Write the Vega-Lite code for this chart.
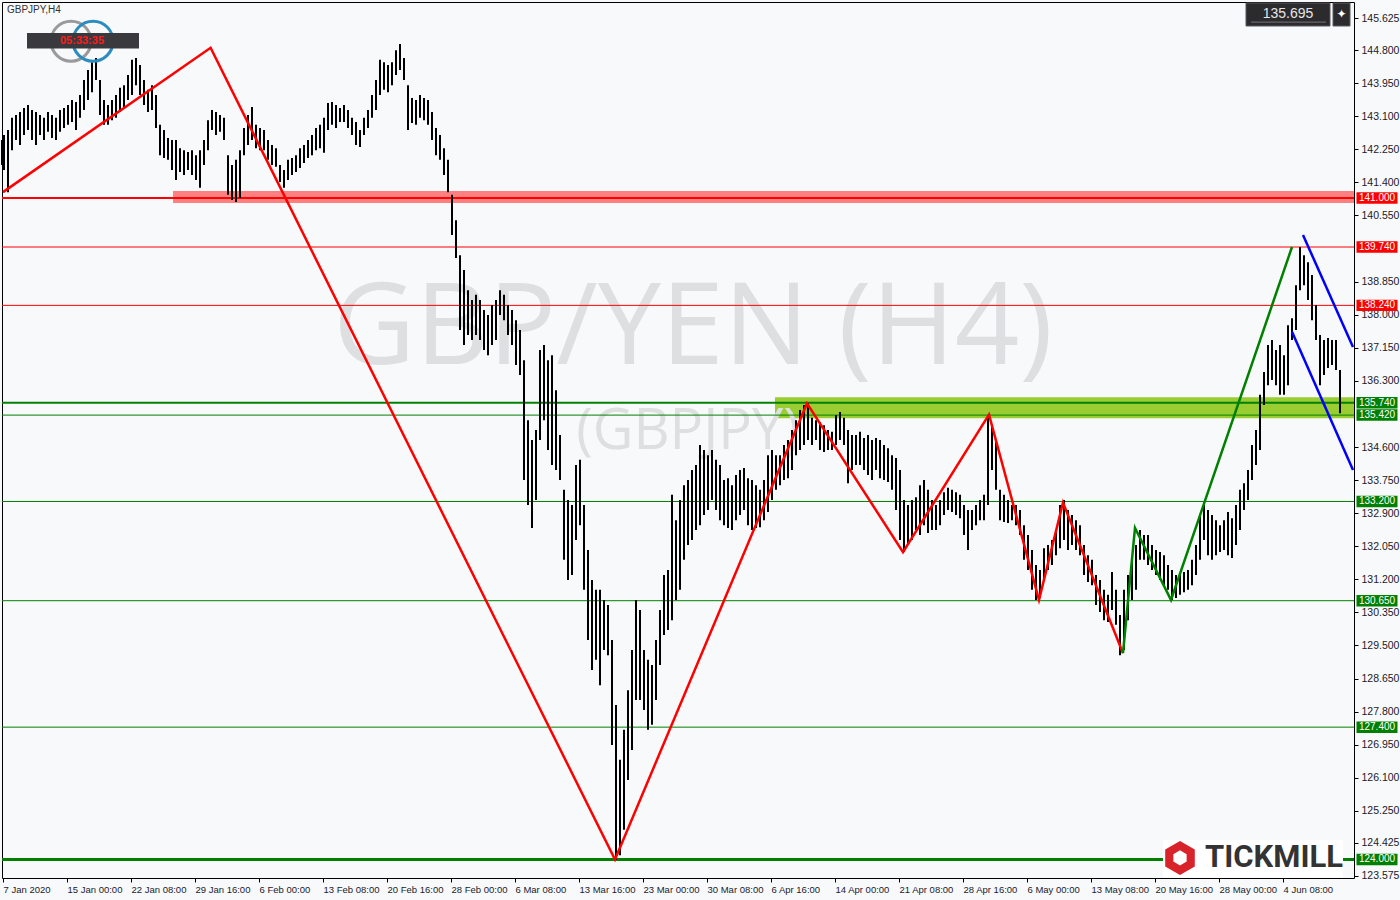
{
"$schema":"https://vega.github.io/schema/vega-lite/v6.json",
"width":1352,"height":876,
"autosize":{"type":"none"},
"padding":{"left":2,"top":2,"right":46,"bottom":22},
"background":"#F8F9FB",
"config":{"view":{"stroke":"#000000","strokeWidth":1,"fill":"#F8F9FB"},"font":"Liberation Sans","axis":{"labelOverlap":false,"labelBound":false,"labelFlush":false,"title":null}},
"datasets":{
"bars":[
{"t":1,"p":142.49,"p2":141.85},{"t":2,"p":142.62,"p2":141.72},{"t":4,"p":142.75,"p2":141.15},{"t":6,"p":143.06,"p2":142.23},{"t":8,"p":143.13,"p2":142.49},{"t":10,"p":143.21,"p2":142.36},{"t":12,"p":143.31,"p2":142.62},{"t":14,"p":143.39,"p2":142.75},{"t":16,"p":143.26,"p2":142.49},{"t":18,"p":143.21,"p2":142.36},
{"t":20,"p":143.13,"p2":142.62},{"t":22,"p":143.06,"p2":142.49},{"t":24,"p":143.21,"p2":142.70},{"t":26,"p":143.13,"p2":142.54},{"t":28,"p":143.06,"p2":142.49},{"t":30,"p":143.26,"p2":142.70},{"t":32,"p":143.31,"p2":142.80},{"t":34,"p":143.39,"p2":142.88},{"t":36,"p":143.52,"p2":142.95},{"t":38,"p":143.47,"p2":142.75},
{"t":40,"p":143.65,"p2":143.06},{"t":42,"p":144.03,"p2":143.26},{"t":44,"p":144.29,"p2":143.52},{"t":46,"p":144.49,"p2":143.72},{"t":48,"p":144.60,"p2":144.03},{"t":50,"p":144.03,"p2":143.13},{"t":52,"p":143.52,"p2":142.88},{"t":54,"p":143.39,"p2":142.88},{"t":56,"p":143.52,"p2":143.00},{"t":58,"p":143.65,"p2":143.06},
{"t":60,"p":143.83,"p2":143.21},{"t":62,"p":143.90,"p2":143.31},{"t":64,"p":144.16,"p2":143.52},{"t":66,"p":144.55,"p2":143.65},{"t":68,"p":144.60,"p2":143.90},{"t":70,"p":144.42,"p2":143.65},{"t":72,"p":144.03,"p2":143.39},{"t":74,"p":143.78,"p2":143.21},{"t":76,"p":143.90,"p2":143.26},{"t":78,"p":143.65,"p2":142.80},
{"t":80,"p":142.88,"p2":142.10},{"t":82,"p":142.75,"p2":142.03},{"t":84,"p":142.54,"p2":141.98},{"t":86,"p":142.49,"p2":141.72},{"t":88,"p":142.49,"p2":141.46},{"t":90,"p":142.28,"p2":141.67},{"t":92,"p":142.23,"p2":141.59},{"t":94,"p":142.18,"p2":141.72},{"t":96,"p":142.23,"p2":141.59},{"t":98,"p":142.10,"p2":141.46},
{"t":100,"p":142.23,"p2":141.26},{"t":102,"p":142.49,"p2":141.85},{"t":104,"p":143.00,"p2":142.23},{"t":106,"p":143.26,"p2":142.75},{"t":108,"p":143.21,"p2":142.62},{"t":110,"p":143.13,"p2":142.70},{"t":112,"p":143.06,"p2":142.49},{"t":114,"p":142.10,"p2":141.08},{"t":116,"p":141.85,"p2":140.95},{"t":118,"p":141.98,"p2":140.90},
{"t":120,"p":142.23,"p2":141.00},{"t":122,"p":142.80,"p2":142.10},{"t":124,"p":143.13,"p2":142.36},{"t":126,"p":143.34,"p2":142.49},{"t":128,"p":142.88,"p2":142.28},{"t":130,"p":142.80,"p2":142.23},{"t":132,"p":142.75,"p2":142.23},{"t":134,"p":142.49,"p2":141.98},{"t":136,"p":142.36,"p2":141.85},{"t":138,"p":142.28,"p2":141.80},
{"t":140,"p":141.85,"p2":141.41},{"t":142,"p":141.72,"p2":141.26},{"t":144,"p":141.98,"p2":141.46},{"t":146,"p":142.03,"p2":141.59},{"t":148,"p":142.10,"p2":141.67},{"t":150,"p":142.28,"p2":141.77},{"t":152,"p":142.36,"p2":141.90},{"t":154,"p":142.49,"p2":142.03},{"t":156,"p":142.62,"p2":142.10},{"t":158,"p":142.80,"p2":142.23},
{"t":160,"p":142.88,"p2":142.28},{"t":162,"p":143.06,"p2":142.16},{"t":164,"p":143.44,"p2":142.75},{"t":166,"p":143.47,"p2":142.88},{"t":168,"p":143.39,"p2":142.80},{"t":170,"p":143.31,"p2":142.95},{"t":172,"p":143.39,"p2":142.95},{"t":174,"p":143.26,"p2":142.80},{"t":176,"p":143.06,"p2":142.62},{"t":178,"p":142.95,"p2":142.36},
{"t":180,"p":142.75,"p2":142.31},{"t":182,"p":143.06,"p2":142.62},{"t":184,"p":143.26,"p2":142.80},{"t":186,"p":143.65,"p2":143.06},{"t":188,"p":144.03,"p2":143.26},{"t":190,"p":144.55,"p2":143.65},{"t":192,"p":144.49,"p2":143.78},{"t":194,"p":144.42,"p2":143.72},{"t":196,"p":144.49,"p2":143.90},{"t":198,"p":144.80,"p2":144.16},
{"t":200,"p":144.96,"p2":144.29},{"t":202,"p":144.60,"p2":144.03},{"t":204,"p":143.90,"p2":142.75},{"t":206,"p":143.57,"p2":142.93},{"t":208,"p":143.52,"p2":142.88},{"t":210,"p":143.65,"p2":143.06},{"t":212,"p":143.57,"p2":143.00},{"t":214,"p":143.52,"p2":142.88},{"t":216,"p":143.21,"p2":142.49},{"t":218,"p":142.80,"p2":142.10},
{"t":220,"p":142.62,"p2":141.98},{"t":222,"p":142.28,"p2":141.59},{"t":224,"p":141.98,"p2":141.15},{"t":226,"p":141.08,"p2":140.05},{"t":228,"p":140.43,"p2":139.46},{"t":230,"p":139.53,"p2":137.61},{"t":232,"p":139.15,"p2":137.22},{"t":234,"p":138.63,"p2":137.48},{"t":236,"p":138.38,"p2":137.35},{"t":238,"p":138.51,"p2":137.48},
{"t":240,"p":138.38,"p2":137.35},{"t":242,"p":138.12,"p2":137.09},{"t":244,"p":137.99,"p2":136.96},{"t":246,"p":138.25,"p2":137.22},{"t":248,"p":138.38,"p2":137.35},{"t":250,"p":138.63,"p2":137.99},{"t":252,"p":138.51,"p2":137.86},{"t":254,"p":138.25,"p2":137.48},{"t":256,"p":138.12,"p2":137.22},{"t":258,"p":137.86,"p2":136.71},
{"t":260,"p":137.61,"p2":136.45},{"t":262,"p":136.83,"p2":133.75},{"t":264,"p":135.29,"p2":133.11},{"t":266,"p":134.78,"p2":132.52},{"t":268,"p":135.04,"p2":133.24},{"t":270,"p":137.09,"p2":134.78},{"t":272,"p":137.22,"p2":135.29},{"t":274,"p":136.83,"p2":134.52},{"t":276,"p":136.96,"p2":134.14},{"t":278,"p":136.06,"p2":134.01},
{"t":280,"p":134.91,"p2":133.75},{"t":282,"p":133.50,"p2":131.70},{"t":284,"p":133.24,"p2":131.18},{"t":286,"p":133.11,"p2":131.31},{"t":288,"p":134.14,"p2":132.21},{"t":290,"p":134.27,"p2":132.59},{"t":292,"p":133.11,"p2":130.93},{"t":294,"p":131.95,"p2":129.64},{"t":296,"p":131.18,"p2":128.87},{"t":298,"p":130.93,"p2":129.13},
{"t":300,"p":130.93,"p2":128.48},{"t":302,"p":130.67,"p2":129.38},{"t":304,"p":130.54,"p2":129.25},{"t":306,"p":129.64,"p2":126.94},{"t":308,"p":127.97,"p2":123.99},{"t":310,"p":126.56,"p2":124.11},{"t":312,"p":127.33,"p2":124.76},{"t":314,"p":128.35,"p2":126.04},{"t":316,"p":129.38,"p2":126.81},{"t":318,"p":130.67,"p2":128.10},
{"t":320,"p":130.41,"p2":128.10},{"t":322,"p":129.38,"p2":127.84},{"t":324,"p":129.13,"p2":127.33},{"t":326,"p":129.00,"p2":127.46},{"t":328,"p":129.64,"p2":128.10},{"t":330,"p":130.41,"p2":129.00},{"t":332,"p":131.31,"p2":129.77},{"t":334,"p":131.44,"p2":129.90},{"t":336,"p":133.37,"p2":130.15},{"t":338,"p":132.72,"p2":130.67},
{"t":340,"p":133.24,"p2":130.93},{"t":342,"p":133.62,"p2":131.70},{"t":344,"p":133.75,"p2":132.08},{"t":346,"p":134.01,"p2":132.21},{"t":348,"p":134.14,"p2":132.47},{"t":350,"p":134.65,"p2":132.59},{"t":352,"p":134.52,"p2":132.85},{"t":354,"p":134.39,"p2":132.98},{"t":356,"p":134.52,"p2":133.24},{"t":358,"p":134.27,"p2":132.98},
{"t":360,"p":134.14,"p2":132.72},{"t":362,"p":133.75,"p2":132.59},{"t":364,"p":133.80,"p2":132.52},{"t":366,"p":133.62,"p2":132.47},{"t":368,"p":133.88,"p2":132.72},{"t":370,"p":134.01,"p2":132.85},{"t":372,"p":134.06,"p2":132.98},{"t":374,"p":133.80,"p2":132.59},{"t":376,"p":133.75,"p2":132.47},{"t":378,"p":133.62,"p2":132.52},
{"t":380,"p":133.50,"p2":132.54},{"t":382,"p":133.75,"p2":132.72},{"t":384,"p":134.39,"p2":132.93},{"t":386,"p":134.52,"p2":133.24},{"t":388,"p":134.39,"p2":133.50},{"t":390,"p":134.39,"p2":133.62},{"t":392,"p":134.65,"p2":133.75},{"t":394,"p":134.78,"p2":133.80},{"t":396,"p":135.04,"p2":134.01},{"t":398,"p":135.29,"p2":134.39},
{"t":400,"p":135.55,"p2":134.52},{"t":402,"p":135.68,"p2":134.65},{"t":404,"p":135.73,"p2":134.78},{"t":406,"p":135.35,"p2":134.65},{"t":408,"p":135.29,"p2":134.78},{"t":410,"p":135.24,"p2":134.52},{"t":412,"p":135.16,"p2":134.47},{"t":414,"p":135.04,"p2":134.52},{"t":416,"p":134.99,"p2":134.52},{"t":418,"p":135.42,"p2":134.65},
{"t":420,"p":135.50,"p2":134.78},{"t":422,"p":135.35,"p2":134.65},{"t":424,"p":135.04,"p2":133.67},{"t":426,"p":134.91,"p2":134.01},{"t":428,"p":134.91,"p2":134.14},{"t":430,"p":134.99,"p2":134.14},{"t":432,"p":134.83,"p2":134.01},{"t":434,"p":134.91,"p2":133.88},{"t":436,"p":134.78,"p2":133.75},{"t":438,"p":134.83,"p2":134.01},
{"t":440,"p":134.78,"p2":133.80},{"t":442,"p":134.65,"p2":133.75},{"t":444,"p":134.57,"p2":133.70},{"t":446,"p":134.39,"p2":133.50},{"t":448,"p":134.32,"p2":132.98},{"t":450,"p":134.01,"p2":132.21},{"t":452,"p":133.24,"p2":131.90},{"t":454,"p":133.11,"p2":132.08},{"t":456,"p":133.24,"p2":132.21},{"t":458,"p":133.31,"p2":132.47},
{"t":460,"p":133.62,"p2":132.34},{"t":462,"p":133.75,"p2":132.59},{"t":464,"p":133.50,"p2":132.39},{"t":466,"p":133.24,"p2":132.47},{"t":468,"p":133.11,"p2":132.47},{"t":470,"p":133.24,"p2":132.59},{"t":472,"p":133.44,"p2":132.85},{"t":474,"p":133.55,"p2":132.98},{"t":476,"p":133.50,"p2":132.93},{"t":478,"p":133.44,"p2":132.85},
{"t":480,"p":133.37,"p2":132.77},{"t":482,"p":133.11,"p2":132.34},{"t":484,"p":132.98,"p2":131.95},{"t":486,"p":132.98,"p2":132.47},{"t":488,"p":133.11,"p2":132.59},{"t":490,"p":133.24,"p2":132.72},{"t":492,"p":133.37,"p2":132.72},{"t":494,"p":135.42,"p2":133.11},{"t":496,"p":135.16,"p2":134.01},{"t":498,"p":134.78,"p2":133.50},
{"t":500,"p":133.50,"p2":132.72},{"t":502,"p":133.37,"p2":132.67},{"t":504,"p":133.24,"p2":132.65},{"t":506,"p":133.11,"p2":132.72},{"t":508,"p":133.11,"p2":132.59},{"t":510,"p":132.98,"p2":132.34},{"t":512,"p":132.59,"p2":131.70},{"t":514,"p":132.34,"p2":131.44},{"t":516,"p":131.95,"p2":130.93},{"t":518,"p":131.57,"p2":130.67},
{"t":520,"p":131.44,"p2":130.72},{"t":522,"p":132.00,"p2":131.18},{"t":524,"p":132.08,"p2":131.44},{"t":526,"p":132.21,"p2":131.57},{"t":528,"p":132.47,"p2":131.82},{"t":530,"p":133.11,"p2":132.00},{"t":532,"p":133.24,"p2":132.21},{"t":534,"p":132.98,"p2":131.95},{"t":536,"p":132.85,"p2":132.08},{"t":538,"p":132.72,"p2":131.95},
{"t":540,"p":132.59,"p2":131.82},{"t":542,"p":132.08,"p2":131.31},{"t":544,"p":131.82,"p2":131.13},{"t":546,"p":131.70,"p2":131.05},{"t":548,"p":131.31,"p2":130.54},{"t":550,"p":131.18,"p2":130.36},{"t":552,"p":130.93,"p2":130.15},{"t":554,"p":130.80,"p2":130.10},{"t":556,"p":131.39,"p2":130.41},{"t":558,"p":130.93,"p2":130.03},
{"t":560,"p":130.28,"p2":129.25},{"t":562,"p":130.93,"p2":129.38},{"t":564,"p":131.31,"p2":130.15},{"t":566,"p":131.70,"p2":130.67},{"t":568,"p":132.08,"p2":130.93},{"t":570,"p":132.47,"p2":131.70},{"t":572,"p":132.34,"p2":131.70},{"t":574,"p":132.34,"p2":131.57},{"t":576,"p":132.08,"p2":131.44},{"t":578,"p":131.95,"p2":131.31},
{"t":580,"p":131.90,"p2":131.18},{"t":582,"p":131.82,"p2":131.05},{"t":584,"p":131.57,"p2":130.93},{"t":586,"p":131.44,"p2":130.67},{"t":588,"p":131.31,"p2":130.72},{"t":590,"p":131.31,"p2":130.80},{"t":592,"p":131.39,"p2":130.87},{"t":594,"p":131.44,"p2":130.93},{"t":596,"p":131.70,"p2":131.05},{"t":598,"p":132.08,"p2":131.31},
{"t":600,"p":132.85,"p2":131.70},{"t":602,"p":133.11,"p2":132.21},{"t":604,"p":132.98,"p2":131.82},{"t":606,"p":132.85,"p2":131.70},{"t":608,"p":132.72,"p2":131.82},{"t":610,"p":132.59,"p2":131.90},{"t":612,"p":132.72,"p2":131.95},{"t":614,"p":132.93,"p2":131.82},{"t":616,"p":132.77,"p2":131.75},{"t":618,"p":133.11,"p2":132.08},
{"t":620,"p":133.50,"p2":132.47},{"t":622,"p":133.67,"p2":132.98},{"t":624,"p":134.01,"p2":133.24},{"t":626,"p":134.65,"p2":133.75},{"t":628,"p":135.04,"p2":134.14},{"t":630,"p":135.94,"p2":134.52},{"t":632,"p":136.53,"p2":135.68},{"t":634,"p":137.22,"p2":136.19},{"t":636,"p":137.35,"p2":136.32},{"t":638,"p":137.09,"p2":136.19},
{"t":640,"p":137.22,"p2":135.94},{"t":642,"p":136.96,"p2":135.94},{"t":644,"p":137.73,"p2":136.19},{"t":646,"p":137.91,"p2":137.35},{"t":648,"p":138.76,"p2":137.61},{"t":650,"p":139.74,"p2":138.63},{"t":652,"p":139.53,"p2":138.76},{"t":654,"p":139.35,"p2":138.38},{"t":656,"p":139.02,"p2":137.86},{"t":658,"p":138.25,"p2":137.35},
{"t":660,"p":137.48,"p2":136.19},{"t":662,"p":137.35,"p2":136.45},{"t":664,"p":137.40,"p2":136.63},{"t":666,"p":137.35,"p2":136.71},{"t":668,"p":137.35,"p2":136.58},{"t":670,"p":136.58,"p2":135.47}
],
"levels":[
{"p":141.0,"kind":"res","rank":2},{"p":139.74,"kind":"res","rank":1},{"p":138.24,"kind":"res","rank":1},
{"p":135.74,"kind":"sup","rank":2},{"p":135.42,"kind":"sup","rank":1},{"p":133.2,"kind":"sup","rank":1},
{"p":130.65,"kind":"sup","rank":1},{"p":127.4,"kind":"sup","rank":1},{"p":124.0,"kind":"sup","rank":3}
],
"zz":[
{"s":"red","n":0,"t":1.5,"p":141.15},{"s":"red","n":1,"t":105.3,"p":144.86},{"s":"red","n":2,"t":307.5,"p":124.0},
{"s":"red","n":3,"t":403.5,"p":135.72},{"s":"red","n":4,"t":451.5,"p":131.9},{"s":"red","n":5,"t":494.5,"p":135.43},
{"s":"red","n":6,"t":519.5,"p":130.67},{"s":"red","n":7,"t":531.5,"p":133.17},{"s":"red","n":8,"t":561.5,"p":129.3},
{"s":"green","n":0,"t":561.5,"p":129.3},{"s":"green","n":1,"t":567.5,"p":132.52},{"s":"green","n":2,"t":585.5,"p":130.67},{"s":"green","n":3,"t":646,"p":139.74},
{"s":"blue1","n":0,"t":651.5,"p":140.05},{"s":"blue1","n":1,"t":676.5,"p":137.17},
{"s":"blue2","n":0,"t":646,"p":137.56},{"s":"blue2","n":1,"t":676.5,"p":134.01}
]
},
"layer":[
{"data":{"name":"bars"},"mark":{"type":"rule","stroke":"#000000","strokeWidth":0,"opacity":0},
 "encoding":{
  "x":{"field":"t","type":"quantitative","scale":{"domain":[1,677],"nice":false,"zero":false},
   "axis":{"orient":"bottom","title":null,"tickCount":40,"values":[1.5,33.5,65.5,97.5,129.5,161.5,193.5,225.5,257.5,289.5,321.5,353.5,385.5,417.5,449.5,481.5,513.5,545.5,577.5,609.5,641.5],
    "labelExpr":"['7 Jan 2020','15 Jan 00:00','22 Jan 08:00','29 Jan 16:00','6 Feb 00:00','13 Feb 08:00','20 Feb 16:00','28 Feb 00:00','6 Mar 08:00','13 Mar 16:00','23 Mar 00:00','30 Mar 08:00','6 Apr 16:00','14 Apr 00:00','21 Apr 08:00','28 Apr 16:00','6 May 00:00','13 May 08:00','20 May 16:00','28 May 00:00','4 Jun 08:00'][round((datum.value-1.5)/32)]",
    "labelAlign":"left","labelBaseline":"top","labelDx":2,"labelPadding":2,"tickSize":4,"tickColor":"#000000","domain":false,"grid":false,
    "labelFontSize":9.5,"labelFont":"Liberation Sans","labelColor":"#1a1a2a","labelOverlap":false,"labelFlush":false,"labelBound":false}},
  "y":{"field":"p","type":"quantitative","scale":{"domain":[123.523,146.037],"nice":false,"zero":false},
   "axis":{"orient":"right","title":null,"tickCount":60,"values":[145.625,144.8,143.95,143.1,142.25,141.4,140.55,138.85,138.0,137.15,136.3,134.6,133.75,132.9,132.05,131.2,130.35,129.5,128.65,127.8,126.95,126.1,125.25,124.425,123.575],
    "format":".3f","tickSize":4,"tickColor":"#000000","labelPadding":3,"domain":false,"grid":false,"labelFontSize":10.5,
    "labelFont":"Liberation Sans","labelColor":"#1a1a2a","labelOverlap":false,"labelFlush":false,"labelBound":false}},
  "y2":{"field":"p2"}}},
{"data":{"values":[{"t":86.5,"t2":677,"p":141.18,"p2":140.87}]},"mark":{"type":"rect","fill":"#ff8080"},
 "encoding":{"x":{"field":"t","type":"quantitative"},"x2":{"field":"t2"},"y":{"field":"p","type":"quantitative"},"y2":{"field":"p2"}}},
{"data":{"values":[{"t":387.5,"t2":677,"p":135.88,"p2":135.34}]},"mark":{"type":"rect","fill":"#9acd32"},
 "encoding":{"x":{"field":"t","type":"quantitative"},"x2":{"field":"t2"},"y":{"field":"p","type":"quantitative"},"y2":{"field":"p2"}}},
{"data":{"values":[{"t":346.5,"p":136.73,"txt":"GBP/YEN (H4)"}]},"mark":{"type":"text","font":"Open Sans","fontSize":113,"fill":"#dedfe1","align":"center","baseline":"alphabetic"},
 "encoding":{"x":{"field":"t","type":"quantitative"},"y":{"field":"p","type":"quantitative"},"text":{"field":"txt"}}},
{"data":{"values":[{"t":344,"p":134.55,"txt":"(GBPJPY)"}]},"mark":{"type":"text","font":"Open Sans","fontSize":56,"fill":"#dedfe1","align":"center","baseline":"alphabetic"},
 "encoding":{"x":{"field":"t","type":"quantitative"},"y":{"field":"p","type":"quantitative"},"text":{"field":"txt"}}},
{"data":{"name":"levels"},"mark":{"type":"rule"},
 "encoding":{"y":{"field":"p","type":"quantitative"},
  "stroke":{"field":"kind","type":"nominal","scale":{"domain":["res","sup"],"range":["#ff0000","#008000"]},"legend":null},
  "strokeWidth":{"field":"rank","type":"quantitative","scale":{"domain":[1,3],"range":[1,3]},"legend":null}}},
{"data":{"name":"bars"},"mark":{"type":"rule","stroke":"#000000","strokeWidth":2},
 "encoding":{"x":{"field":"t","type":"quantitative"},"y":{"field":"p","type":"quantitative"},"y2":{"field":"p2"}}},
{"data":{"name":"zz"},"mark":{"type":"line","strokeWidth":2.5},
 "encoding":{"x":{"field":"t","type":"quantitative"},"y":{"field":"p","type":"quantitative"},
  "color":{"field":"s","type":"nominal","scale":{"domain":["red","green","blue1","blue2"],"range":["#ff0000","#008000","#0000ff","#0000ff"]},"legend":null},
  "order":{"field":"n"}}},
{"data":{"name":"levels"},"mark":{"type":"point","shape":"M-1,-0.28L1,-0.28L1,0.28L-1,0.28Z","size":1681,"filled":true,"opacity":1,"strokeWidth":0},
 "encoding":{"x":{"datum":688.5,"type":"quantitative"},"y":{"field":"p","type":"quantitative"},
  "fill":{"field":"kind","type":"nominal","scale":{"domain":["res","sup"],"range":["#ff0000","#008000"]},"legend":null}}},
{"data":{"name":"levels"},"mark":{"type":"text","fill":"#ffffff","fontSize":10,"align":"center","baseline":"middle","font":"Liberation Sans"},
 "encoding":{"x":{"datum":688.5,"type":"quantitative"},"y":{"field":"p","type":"quantitative"},"text":{"field":"p","type":"quantitative","format":".3f"}}},
{"data":{"values":[{"t":3.5,"p":145.83,"txt":"GBPJPY,H4"}]},"mark":{"type":"text","fontSize":10,"font":"Liberation Sans","fill":"#333333","align":"left","baseline":"middle"},
 "encoding":{"x":{"field":"t","type":"quantitative"},"y":{"field":"p","type":"quantitative"},"text":{"field":"txt"}}},
{"data":{"values":[{"t":35.5,"p":145.03}]},"mark":{"type":"point","shape":"circle","size":1600,"filled":false,"stroke":"#9a9a9a","strokeWidth":3,"opacity":1},
 "encoding":{"x":{"field":"t","type":"quantitative"},"y":{"field":"p","type":"quantitative"}}},
{"data":{"values":[{"t":46.5,"p":145.03}]},"mark":{"type":"point","shape":"circle","size":1600,"filled":false,"stroke":"#2a8cbf","strokeWidth":3,"opacity":1},
 "encoding":{"x":{"field":"t","type":"quantitative"},"y":{"field":"p","type":"quantitative"}}},
{"data":{"values":[{"t":13.5,"t2":69.5,"p":145.24,"p2":144.84}]},"mark":{"type":"rect","fill":"#3a3a3e"},
 "encoding":{"x":{"field":"t","type":"quantitative"},"x2":{"field":"t2"},"y":{"field":"p","type":"quantitative"},"y2":{"field":"p2"}}},
{"data":{"values":[{"t":41,"p":145.04,"txt":"05:33:35"}]},"mark":{"type":"text","fontSize":11,"fontWeight":"bold","fill":"#ff1a1a","align":"center","baseline":"middle"},
 "encoding":{"x":{"field":"t","type":"quantitative"},"y":{"field":"p","type":"quantitative"},"text":{"field":"txt"}}},
{"data":{"values":[{"t":623,"t2":665,"p":146.01,"p2":145.42},{"t":666.5,"t2":675,"p":146.01,"p2":145.42}]},"mark":{"type":"rect","fill":"#2b2b2e","stroke":"#5a5a5e","strokeWidth":1},
 "encoding":{"x":{"field":"t","type":"quantitative"},"x2":{"field":"t2"},"y":{"field":"p","type":"quantitative"},"y2":{"field":"p2"}}},
{"data":{"values":[{"t":625.5,"t2":663,"p":145.52}]},"mark":{"type":"rule","stroke":"#77777b","strokeWidth":1},
 "encoding":{"x":{"field":"t","type":"quantitative"},"x2":{"field":"t2"},"y":{"field":"p","type":"quantitative"}}},
{"data":{"values":[{"t":644,"p":145.73,"txt":"135.695"}]},"mark":{"type":"text","fontSize":14,"fill":"#e6e6e6","align":"center","baseline":"middle"},
 "encoding":{"x":{"field":"t","type":"quantitative"},"y":{"field":"p","type":"quantitative"},"text":{"field":"txt"}}},
{"data":{"values":[{"t":670.8,"p":145.73,"txt":"✦"}]},"mark":{"type":"text","fontSize":12,"font":"DejaVu Sans","fill":"#ffffff","align":"center","baseline":"middle"},
 "encoding":{"x":{"field":"t","type":"quantitative"},"y":{"field":"p","type":"quantitative"},"text":{"field":"txt"}}},
{"data":{"values":[{"t":581.5,"t2":671.5,"p":124.5,"p2":123.53}]},"mark":{"type":"rect","fill":"#ffffff"},
 "encoding":{"x":{"field":"t","type":"quantitative"},"x2":{"field":"t2"},"y":{"field":"p","type":"quantitative"},"y2":{"field":"p2"}}},
{"data":{"values":[{"t":590,"p":124.04}]},"mark":{"type":"point","shape":"M0,-1L0.87,-0.5L0.87,0.5L0,1L-0.87,0.5L-0.87,-0.5ZM0,-0.45L-0.39,-0.22L-0.39,0.22L0,0.45L0.39,0.22L0.39,-0.22Z","size":1156,"filled":true,"fill":"#d8232a","strokeWidth":0,"opacity":1},
 "encoding":{"x":{"field":"t","type":"quantitative"},"y":{"field":"p","type":"quantitative"}}},
{"data":{"values":[{"t":602.5,"p":124.03,"txt":"TICKMILL"}]},"mark":{"type":"text","fontSize":31,"font":"Roboto","fontWeight":"bold","fill":"#333333","align":"left","baseline":"middle"},
 "encoding":{"x":{"field":"t","type":"quantitative"},"y":{"field":"p","type":"quantitative"},"text":{"field":"txt"}}}
]
}
